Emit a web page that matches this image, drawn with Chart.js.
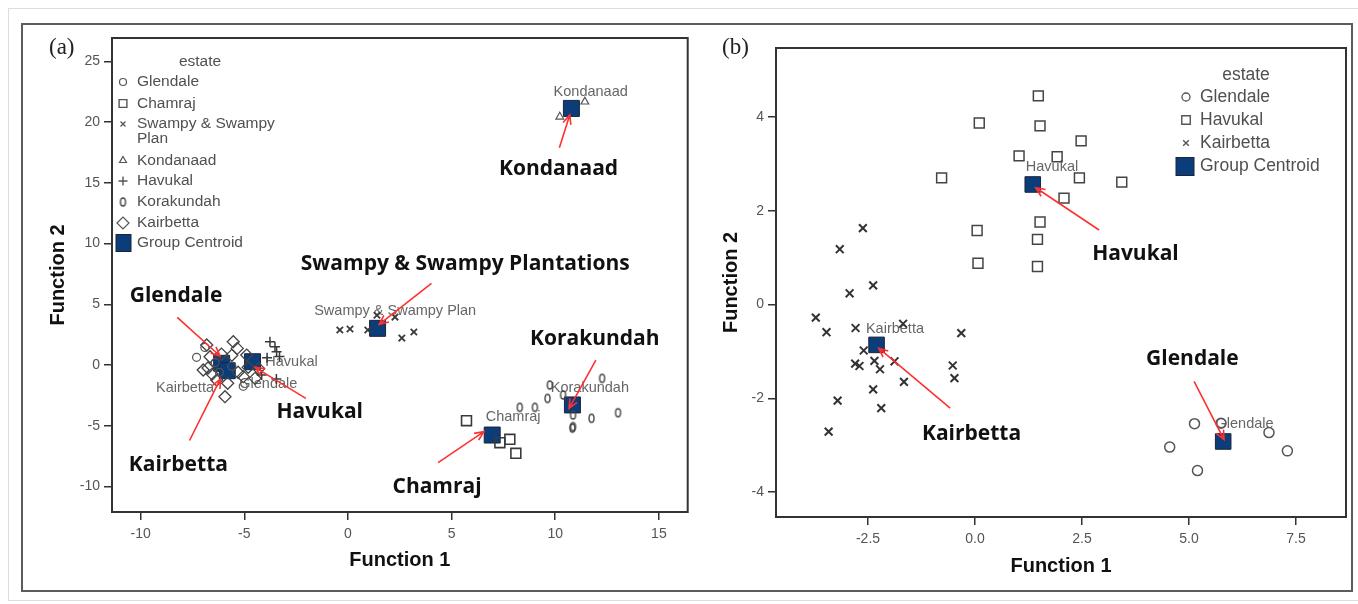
<!DOCTYPE html>
<html>
<head>
<meta charset="utf-8">
<script src="https://cdn.jsdelivr.net/npm/chart.js@4.4.1/dist/chart.umd.min.js"></script>
<style>
  html, body { margin: 0; padding: 0; background: #fff; }
  #page { position: relative; width: 1358px; height: 604px; overflow: hidden; background: #fff; }
  .frame-outer { position: absolute; left: 8px; top: 8px; width: 1370px; height: 591px; border: 1px solid #dedede; }
  .frame-inner { position: absolute; left: 21px; top: 23px; width: 1328px; height: 565px; border: 2px solid #5c5c5c; }
  .panel { position: absolute; top: 0; }
  .tag { position: absolute; top: 34px; font-family: "Liberation Serif", "DejaVu Serif", serif; font-size: 23px; color: #222; }
</style>
</head>
<body>
<div id="page">
  <div class="frame-outer"></div>
  <div class="frame-inner"></div>
  <div class="panel" style="left:0"><canvas id="chartA" width="700" height="604"></canvas></div>
  <div class="panel" style="left:700px"><canvas id="chartB" width="658" height="604"></canvas></div>
  <div class="tag" style="left:49px">(a)</div>
  <div class="tag" style="left:722px">(b)</div>
</div>
<script>
// ---------- panel (a): discriminant scores for all seven estates ----------
const glendaleA   = [[-7.3,0.63],[-6.9,1.45],[-6.4,0.2],[-5.05,-1.75],[-6.2,-0.6],[-5.6,-0.1]];
const chamrajA    = [[5.72,-4.59],[7.33,-6.4],[7.81,-6.12],[8.1,-7.28]];
const swampyA     = [[-0.39,2.88],[0.1,2.97],[0.96,2.88],[1.4,4.1],[2.27,3.95],[2.6,2.22],[3.18,2.72]];
const kondanaadA  = [[10.22,20.45],[11.43,21.69]];
const havukalA    = [[-3.76,1.92],[-3.52,1.51],[-3.44,1.1],[-4.16,-0.82],[-3.9,0.6],[-3.3,0.7],[-3.45,-1.15]];
const korakundahA = [[8.29,-3.49],[9.02,-3.49],[9.63,-2.75],[9.74,-1.65],[10.38,-2.47],[12.26,-1.1],
                     [10.86,-4.12],[11.75,-4.39],[13.03,-3.93],[10.86,-5.08],[10.83,-5.2]];
const kairbettaA  = [[-6.81,1.65],[-5.53,1.92],[-5.34,1.37],[-6.65,0.68],[-6.98,-0.41],[-4.88,0.82],
                     [-4.81,-0.19],[-5.05,-0.96],[-4.48,-1.1],[-5.93,-2.61],[-6.33,-1.24],[-5.6,0.8],
                     [-6.55,-0.75],[-5.8,-1.5],[-5.3,-0.6],[-6.1,0.9],[-4.3,-0.3],[-6.75,-0.25]];
const estatesA    = ['Glendale','Chamraj','Swampy & Swampy Plan','Kondanaad','Havukal','Korakundah','Kairbetta'];
const centroidsA  = [[-6.09,0.14],[6.96,-5.77],[1.43,3.02],[10.78,21.14],[-4.6,0.27],[10.83,-3.29],[-5.82,-0.47]];
const centroidTagAtA = [[-3.84,-1.57],[7.97,-4.31],[2.28,4.47],[11.71,22.5],[-2.72,0.27],[11.67,-1.92],[-7.86,-1.92]];
const calloutsA = [
  { text: 'Kondanaad', at: [10.16,16.15], from: [10.2,17.9], to: [10.7,20.6] },
  { text: 'Swampy & Swampy Plantations', at: [5.66,8.28], from: [4.03,6.73], to: [1.51,3.35] },
  { text: 'Glendale', at: [-8.29,5.68], from: [-8.23,3.93], to: [-6.17,0.74] },
  { text: 'Havukal', at: [-1.36,-3.84], from: [-2.03,-2.75], to: [-4.48,-0.19] },
  { text: 'Kairbetta', at: [-8.18,-8.28], from: [-7.64,-6.22], to: [-6.15,-1.15] },
  { text: 'Korakundah', at: [11.91,2.12], from: [11.96,0.41], to: [10.67,-3.57] },
  { text: 'Chamraj', at: [4.3,-10.03], from: [4.35,-8.04], to: [6.56,-5.49] }
];
const xTicksA = [-10, -5, 0, 5, 10, 15];
const yTicksA = [-10, -5, 0, 5, 10, 15, 20, 25];

// ---------- panel (b): Glendale, Havukal and Kairbetta only ----------
const glendaleB  = [[5.13,-2.54],[4.55,-3.04],[5.2,-3.54],[6.87,-2.73],[7.3,-3.12],[5.75,-2.53]];
const havukalB   = [[1.48,4.45],[0.1,3.87],[1.52,3.81],[2.48,3.49],[1.03,3.17],[1.92,3.15],[-0.78,2.7],
                    [2.44,2.7],[3.43,2.61],[2.08,2.27],[1.52,1.76],[0.05,1.58],[1.46,1.39],[0.07,0.88],[1.46,0.81]];
const kairbettaB = [[-2.62,1.63],[-3.16,1.18],[-2.38,0.41],[-2.93,0.24],[-3.72,-0.28],[-3.47,-0.59],
                    [-2.79,-0.5],[-1.68,-0.41],[-0.32,-0.61],[-2.6,-0.98],[-2.35,-1.2],[-2.8,-1.26],
                    [-2.7,-1.31],[-2.22,-1.38],[-1.88,-1.21],[-0.52,-1.3],[-0.48,-1.57],[-1.66,-1.65],
                    [-2.38,-1.81],[-3.21,-2.05],[-2.19,-2.21],[-3.42,-2.71]];
const estatesB   = ['Glendale','Havukal','Kairbetta'];
const centroidsB = [[5.8,-2.92],[1.35,2.56],[-2.3,-0.86]];
const centroidTagAtB = [[6.3,-2.55],[1.8,2.94],[-1.87,-0.52]];
const calloutsB = [
  { text: 'Havukal', at: [3.75,1.08], from: [2.9,1.59], to: [1.42,2.49] },
  { text: 'Kairbetta', at: [-0.08,-2.76], from: [-0.58,-2.21], to: [-2.25,-0.93] },
  { text: 'Glendale', at: [5.08,-1.17], from: [5.12,-1.64], to: [5.82,-2.88] }
];
const xTicksB = [-2.5, 0, 2.5, 5, 7.5];
const yTicksB = [-4, -2, 0, 2, 4];

// ---------- shared styling ----------
const SANS = '"Liberation Sans", Arial, sans-serif';
const NOTE = '"Open Sans", "Noto Sans", sans-serif';
const NAVY = '#0b3d7a';
const INK = '#3a3a3a';

// hollow upright ellipse used for Korakundah markers
function ovalMarker() {
  const c = document.createElement('canvas');
  c.width = 9; c.height = 12;
  const g = c.getContext('2d');
  g.strokeStyle = '#444'; g.lineWidth = 1.4;
  g.beginPath(); g.ellipse(4.5, 6, 2.5, 4, 0, 0, Math.PI * 2); g.stroke();
  return c;
}
const OVAL = ovalMarker();

const toXY = arr => arr.map(p => ({ x: p[0], y: p[1] }));

function pix(chart, p) {
  return [chart.scales.x.getPixelForValue(p[0]), chart.scales.y.getPixelForValue(p[1])];
}

function arrow(ctx, from, to) {
  const ang = Math.atan2(to[1] - from[1], to[0] - from[0]);
  const len = 10, spread = 0.42;
  ctx.beginPath();
  ctx.moveTo(from[0], from[1]); ctx.lineTo(to[0], to[1]);
  ctx.moveTo(to[0] - len * Math.cos(ang - spread), to[1] - len * Math.sin(ang - spread));
  ctx.lineTo(to[0], to[1]);
  ctx.lineTo(to[0] - len * Math.cos(ang + spread), to[1] - len * Math.sin(ang + spread));
  ctx.stroke();
}

function legendGlyph(ctx, style, radius, width, x, y) {
  ctx.save();
  ctx.strokeStyle = '#555'; ctx.fillStyle = 'rgba(0,0,0,0)'; ctx.lineWidth = width;
  if (Chart.helpers && Chart.helpers.drawPoint) {
    Chart.helpers.drawPoint(ctx, { pointStyle: style, radius: radius, rotation: 0, borderWidth: width }, x, y);
  }
  ctx.restore();
}

function decor(cfg) {
  return {
    id: 'decor',
    beforeDatasetsDraw(chart) {
      const ctx = chart.ctx;
      ctx.save();
      ctx.font = cfg.tagFont; ctx.fillStyle = '#666';
      ctx.textAlign = 'center'; ctx.textBaseline = 'middle';
      cfg.tagNames.forEach((t, i) => { const [x, y] = pix(chart, cfg.tagAt[i]); ctx.fillText(t, x, y); });
      ctx.restore();
    },
    afterDatasetsDraw(chart) {
      const ctx = chart.ctx, a = chart.chartArea;
      ctx.save();
      ctx.strokeStyle = '#333'; ctx.lineWidth = 2;
      ctx.strokeRect(a.left, a.top, a.right - a.left, a.bottom - a.top);

      ctx.strokeStyle = '#ff3030'; ctx.lineWidth = 1.6;
      cfg.callouts.forEach(c => arrow(ctx, pix(chart, c.from), pix(chart, c.to)));
      ctx.fillStyle = '#111'; ctx.font = 'bold 21px ' + NOTE;
      ctx.textAlign = 'center'; ctx.textBaseline = 'middle';
      cfg.callouts.forEach(c => { const [x, y] = pix(chart, c.at); ctx.fillText(c.text, x, y); });

      // legend block
      const L = cfg.legend;
      ctx.font = L.font; ctx.fillStyle = '#505050';
      ctx.textAlign = 'center'; ctx.fillText('estate', L.titleX, L.titleY);
      ctx.textAlign = 'left';
      L.rows.forEach(r => {
        const lines = Array.isArray(r.label) ? r.label : [r.label];
        lines.forEach((s, k) => ctx.fillText(s, L.textX, r.y + k * L.lineGap));
        if (r.centroid) {
          ctx.fillStyle = NAVY; ctx.strokeStyle = '#1d2535'; ctx.lineWidth = 1;
          ctx.fillRect(L.boxX, r.y - L.boxH / 2, L.boxW, L.boxH);
          ctx.strokeRect(L.boxX, r.y - L.boxH / 2, L.boxW, L.boxH);
          ctx.fillStyle = '#505050';
        } else {
          legendGlyph(ctx, r.style, r.radius, r.width, L.markX, r.y);
        }
      });
      ctx.restore();
    }
  };
}

function axis(min, max, ticks, fmt, title, fitSize, isX, titlePad) {
  return {
    type: 'linear', min: min, max: max,
    afterBuildTicks: s => { s.ticks = ticks.map(v => ({ value: v })); },
    ticks: { color: '#555', font: { family: SANS, size: 14 }, padding: isX ? 6 : 4,
             autoSkip: false, maxRotation: 0, callback: fmt },
    grid: { drawOnChartArea: false, drawTicks: true, tickLength: 8, color: '#333', lineWidth: 1.5 },
    border: { display: false },
    title: { display: true, text: title, color: '#111', font: { family: SANS, size: 20, weight: 'bold' },
             padding: titlePad },
    afterFit: s => { if (isX) s.height = fitSize; else s.width = fitSize; }
  };
}

function pointSet(label, pts, style, radius, width, color) {
  return { label: label, data: toXY(pts), pointStyle: style, pointRadius: radius, pointBorderWidth: width,
           pointBorderColor: color || INK, pointBackgroundColor: 'rgba(0,0,0,0)', showLine: false };
}
function centroidSet(pts, radius) {
  return { label: 'Group Centroid', data: toXY(pts), pointStyle: 'rect', pointRadius: radius,
           pointBorderWidth: 1, pointBorderColor: '#1d2535', pointBackgroundColor: NAVY, showLine: false };
}

const common = {
  responsive: false, animation: false, devicePixelRatio: 1, events: [],
  plugins: { legend: { display: false }, tooltip: { enabled: false } }
};

// ---------- chart (a) ----------
new Chart(document.getElementById('chartA'), {
  type: 'scatter',
  data: { datasets: [
    pointSet(estatesA[0], glendaleA, 'circle', 4, 1.2, '#555'),
    pointSet(estatesA[1], chamrajA, 'rect', 7, 1.6),
    pointSet(estatesA[2], swampyA, 'crossRot', 4.5, 1.8),
    pointSet(estatesA[3], kondanaadA, 'triangle', 4.5, 1.2, '#555'),
    pointSet(estatesA[4], havukalA, 'cross', 5, 1.5),
    pointSet(estatesA[5], korakundahA, OVAL, 4, 1),
    pointSet(estatesA[6], kairbettaA, 'rectRot', 6, 1.3, '#444'),
    centroidSet(centroidsA, 11.3)
  ] },
  options: Object.assign({}, common, {
    layout: { padding: { top: 38, right: 12, left: 0, bottom: 0 } },
    scales: {
      x: axis(-11.38, 16.39, xTicksA, v => String(v), 'Function 1', 92, true, { top: 0, bottom: 32 }),
      y: axis(-12.11, 26.94, yTicksA, v => String(v), 'Function 2', 112, false, { top: 46, bottom: 0 })
    }
  }),
  plugins: [decor({
    tagNames: estatesA, tagAt: centroidTagAtA, tagFont: '14.5px ' + SANS, callouts: calloutsA,
    legend: {
      font: '15.5px ' + SANS, titleX: 200, titleY: 62, textX: 137, markX: 123, lineGap: 15,
      boxX: 116, boxW: 15, boxH: 17,
      rows: [
        { label: estatesA[0], y: 82, style: 'circle', radius: 3.5, width: 1.2 },
        { label: estatesA[1], y: 103.5, style: 'rect', radius: 5.5, width: 1.4 },
        { label: ['Swampy & Swampy', 'Plan'], y: 124, style: 'crossRot', radius: 3.5, width: 1.3 },
        { label: estatesA[3], y: 160.5, style: 'triangle', radius: 4, width: 1.2 },
        { label: estatesA[4], y: 181, style: 'cross', radius: 4.5, width: 1.4 },
        { label: estatesA[5], y: 202, style: OVAL, radius: 4, width: 1 },
        { label: estatesA[6], y: 223, style: 'rectRot', radius: 6, width: 1.2 },
        { label: 'Group Centroid', y: 243, centroid: true }
      ]
    }
  })]
});

// ---------- chart (b) ----------
new Chart(document.getElementById('chartB'), {
  type: 'scatter',
  data: { datasets: [
    pointSet(estatesB[0], glendaleB, 'circle', 5, 1.5, '#555'),
    pointSet(estatesB[1], havukalB, 'rect', 7, 1.5, '#444'),
    pointSet(estatesB[2], kairbettaB, 'crossRot', 5.5, 2, '#333'),
    centroidSet(centroidsB, 11)
  ] },
  options: Object.assign({}, common, {
    layout: { padding: { top: 48, right: 12, left: 0, bottom: 0 } },
    scales: {
      x: axis(-4.65, 8.67, xTicksB, v => Number(v).toFixed(1), 'Function 1', 87, true, { top: 0, bottom: 26 }),
      y: axis(-4.53, 5.47, yTicksB, v => String(v), 'Function 2', 76, false, { top: 19, bottom: 0 })
    }
  }),
  plugins: [decor({
    tagNames: estatesB, tagAt: centroidTagAtB, tagFont: '14.5px ' + SANS, callouts: calloutsB,
    legend: {
      font: '17.5px ' + SANS, titleX: 546, titleY: 75, textX: 500, markX: 486, lineGap: 18,
      boxX: 476, boxW: 18, boxH: 18,
      rows: [
        { label: estatesB[0], y: 97, style: 'circle', radius: 4, width: 1.3 },
        { label: estatesB[1], y: 120, style: 'rect', radius: 6, width: 1.4 },
        { label: estatesB[2], y: 143, style: 'crossRot', radius: 4, width: 1.4 },
        { label: 'Group Centroid', y: 166.5, centroid: true }
      ]
    }
  })]
});
</script>
</body>
</html>
